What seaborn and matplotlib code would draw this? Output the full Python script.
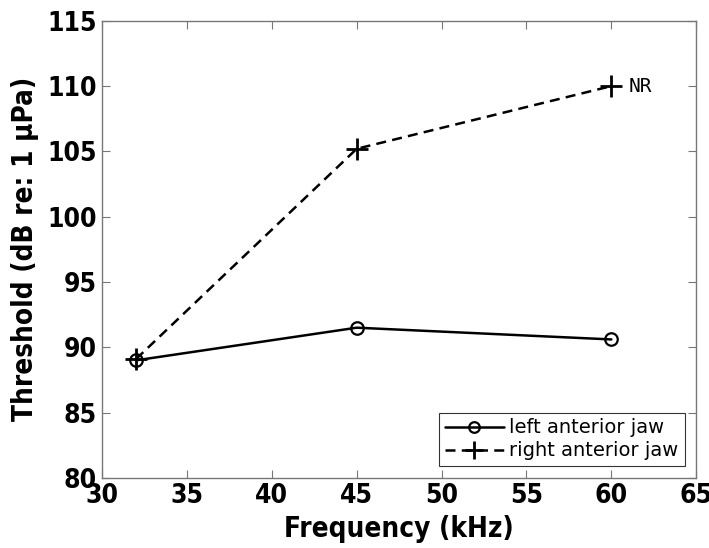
import matplotlib
matplotlib.use("Agg")
import matplotlib.pyplot as plt
import seaborn as sns
import pandas as pd

freq_khz = [32, 45, 60]
left_jaw = [89.0, 91.5, 90.6]
right_jaw = [89.1, 105.2, 110.0]
series_names = ["left anterior jaw", "right anterior jaw"]
x_ticks = [30, 35, 40, 45, 50, 55, 60, 65]
y_ticks = [80, 85, 90, 95, 100, 105, 110, 115]

df = pd.DataFrame({
    "freq": freq_khz * 2,
    "thr": left_jaw + right_jaw,
    "ear": [series_names[0]] * 3 + [series_names[1]] * 3,
})

sns.set_theme(style="ticks")
plt.rcParams["font.family"] = ["DejaVu Sans"]
plt.rcParams["font.stretch"] = "condensed"
plt.rcParams["text.color"] = "black"
plt.rcParams["axes.labelcolor"] = "black"
plt.rcParams["xtick.labelcolor"] = "black"
plt.rcParams["ytick.labelcolor"] = "black"

fig = plt.figure(figsize=(7.09, 5.48), dpi=100)
ax = fig.add_axes([0.144, 0.128, 0.838, 0.834])

sns.lineplot(data=df, x="freq", y="thr", hue="ear", style="ear",
             palette=["black", "black"], ax=ax, legend=False, lw=1.8, sort=False)

# marker and dash styling for each series
solid, dashed = ax.lines[0], ax.lines[1]
solid.set_linestyle("-")
solid.set_marker("o")
solid.set_markerfacecolor("none")
solid.set_markeredgecolor("black")
solid.set_markersize(9)
solid.set_markeredgewidth(1.6)
dashed.set_dashes((4, 2.5))
dashed.set_marker("+")
dashed.set_markersize(16)
dashed.set_markeredgewidth(2)
dashed.set_markeredgecolor("black")

leg = ax.legend([solid, dashed], series_names, loc="lower right", frameon=True,
                fancybox=False, edgecolor="black", handlelength=3.0,
                borderaxespad=0.6, labelspacing=0.2, handletextpad=0.3,
                borderpad=0.3, markerscale=0.85,
                prop={"family": "DejaVu Sans", "stretch": "normal", "size": 14})
leg.get_frame().set_linewidth(0.8)

ax.text(61.0, right_jaw[2], "NR", family="DejaVu Sans Mono", stretch="normal",
        fontsize=14, va="center", ha="left")

ax.set_xlim(30, 65)
ax.set_ylim(80, 115)
ax.set_xticks(x_ticks)
ax.set_yticks(y_ticks)
ax.tick_params(direction="in", top=True, right=True, length=6, width=0.8,
               color="#777777", labelsize=19, pad=4)
for lab in ax.get_xticklabels() + ax.get_yticklabels():
    lab.set_fontweight("bold")
for sp in ax.spines.values():
    sp.set_visible(True)
    sp.set_color("#777777")
    sp.set_linewidth(1.0)

ax.set_xlabel("Frequency (kHz)", fontsize=20, fontweight="bold", labelpad=4)
ax.set_ylabel("Threshold (dB re: 1 μPa)", fontsize=20, fontweight="bold",
              labelpad=6)

fig.savefig("out.png", dpi=100, facecolor="white")
